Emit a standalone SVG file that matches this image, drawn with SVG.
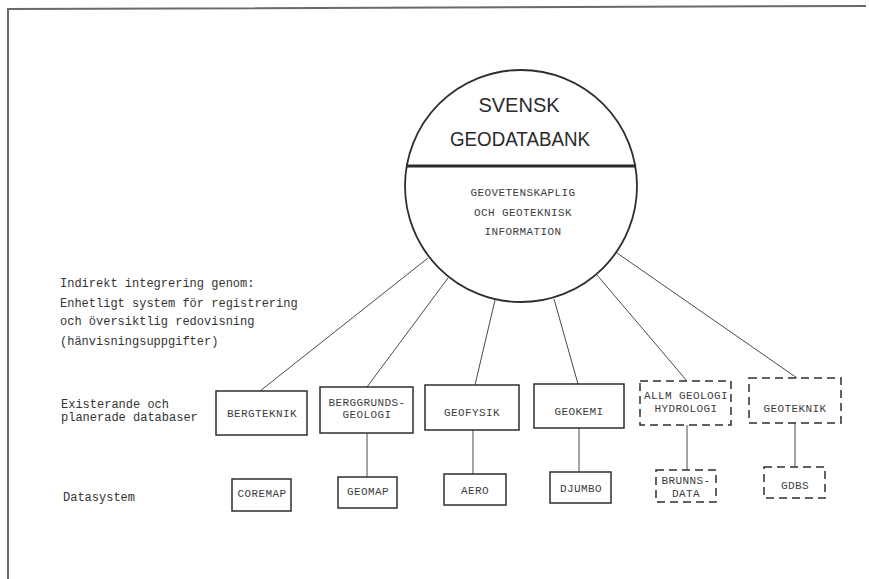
<svg xmlns="http://www.w3.org/2000/svg" width="869" height="579" viewBox="0 0 869 579">
  <style>
    .frame { stroke: #6a6a6a; stroke-width: 2; fill: none; }
    .box { fill: #ffffff; stroke: #2e2e2e; stroke-width: 1.5; }
    .dash { stroke-dasharray: 8 5; }
    .link { stroke: #4a4a4a; stroke-width: 1; fill: none; }
    .lbl { font-family: "Liberation Mono", "DejaVu Sans Mono", monospace; font-size: 11px; fill: #3c3c3c; text-anchor: middle; letter-spacing: 0.4px; }
    .note { font-family: "Liberation Mono", "DejaVu Sans Mono", monospace; font-size: 12px; fill: #333333; }
    .title { font-family: "Liberation Sans", Arial, sans-serif; font-size: 20px; fill: #2a2a2a; text-anchor: middle; }
  </style>
  <rect width="869" height="579" fill="#ffffff"/>

  <!-- page frame -->
  <path class="frame" d="M8 579 L8 9 L866 6"/>

  <!-- connectors -->
  <g id="connectors">
    <line class="link" x1="428" y1="258" x2="260" y2="391"/>
    <line class="link" x1="448" y1="278" x2="367" y2="387"/>
    <line class="link" x1="495" y1="300" x2="475" y2="385"/>
    <line class="link" x1="554" y1="299" x2="578" y2="384"/>
    <line class="link" x1="597" y1="275" x2="687" y2="381"/>
    <line class="link" x1="617" y1="253" x2="797" y2="378"/>
    <line class="link" x1="367" y1="433" x2="367" y2="477"/>
    <line class="link" x1="473" y1="430" x2="473" y2="474"/>
    <line class="link" x1="579" y1="428" x2="579" y2="472"/>
    <line class="link" x1="687" y1="425" x2="687" y2="470"/>
    <line class="link" x1="795" y1="423" x2="795" y2="467"/>
  </g>

  <!-- central databank -->
  <g id="geodatabank">
    <circle cx="521" cy="186" r="116" fill="#ffffff" stroke="#2e2e2e" stroke-width="1.8"/>
    <line x1="406" y1="166" x2="636" y2="166" stroke="#2a2a2a" stroke-width="3"/>
    <text class="title" x="519" y="112">SVENSK</text>
    <text class="title" x="520" y="146" textLength="140" lengthAdjust="spacingAndGlyphs">GEODATABANK</text>
    <text class="lbl" x="523" y="196">GEOVETENSKAPLIG</text>
    <text class="lbl" x="523" y="216">OCH GEOTEKNISK</text>
    <text class="lbl" x="523" y="235">INFORMATION</text>
  </g>

  <!-- row captions -->
  <g id="captions">
    <text class="note" x="60" y="287">Indirekt integrering genom:</text>
    <text class="note" x="60" y="307">Enhetligt system för registrering</text>
    <text class="note" x="60" y="325">och översiktlig redovisning</text>
    <text class="note" x="60" y="345">(hänvisningsuppgifter)</text>
    <text class="note" x="61" y="408">Existerande och</text>
    <text class="note" x="61" y="421">planerade databaser</text>
    <text class="note" x="63" y="501">Datasystem</text>
  </g>

  <!-- databases -->
  <g id="bergteknik">
    <rect class="box" x="216" y="391" width="91" height="44"/>
    <text class="lbl" x="262" y="417">BERGTEKNIK</text>
  </g>
  <g id="berggrundsgeologi">
    <rect class="box" x="320" y="387" width="93" height="46"/>
    <text class="lbl" x="367" y="406">BERGGRUNDS-</text>
    <text class="lbl" x="367" y="418">GEOLOGI</text>
  </g>
  <g id="geofysik">
    <rect class="box" x="425" y="385" width="94" height="45"/>
    <text class="lbl" x="472" y="416">GEOFYSIK</text>
  </g>
  <g id="geokemi">
    <rect class="box" x="534" y="384" width="90" height="44"/>
    <text class="lbl" x="579" y="415">GEOKEMI</text>
  </g>
  <g id="allm-geologi">
    <rect class="box dash" x="640" y="381" width="91" height="44"/>
    <text class="lbl" x="686" y="399">ALLM GEOLOGI</text>
    <text class="lbl" x="686" y="412">HYDROLOGI</text>
  </g>
  <g id="geoteknik">
    <rect class="box dash" x="749" y="378" width="92" height="45"/>
    <text class="lbl" x="795" y="412">GEOTEKNIK</text>
  </g>

  <!-- data systems -->
  <g id="coremap">
    <rect class="box" x="232" y="479" width="59" height="32"/>
    <text class="lbl" x="262" y="497">COREMAP</text>
  </g>
  <g id="geomap">
    <rect class="box" x="338" y="477" width="59" height="31"/>
    <text class="lbl" x="368" y="495">GEOMAP</text>
  </g>
  <g id="aero">
    <rect class="box" x="444" y="474" width="62" height="31"/>
    <text class="lbl" x="475" y="494">AERO</text>
  </g>
  <g id="djumbo">
    <rect class="box" x="550" y="472" width="61" height="31"/>
    <text class="lbl" x="581" y="492">DJUMBO</text>
  </g>
  <g id="brunnsdata">
    <rect class="box dash" x="656" y="470" width="60" height="32"/>
    <text class="lbl" x="686" y="484">BRUNNS-</text>
    <text class="lbl" x="686" y="497">DATA</text>
  </g>
  <g id="gdbs">
    <rect class="box dash" x="764" y="467" width="61" height="31"/>
    <text class="lbl" x="795" y="489">GDBS</text>
  </g>
</svg>
